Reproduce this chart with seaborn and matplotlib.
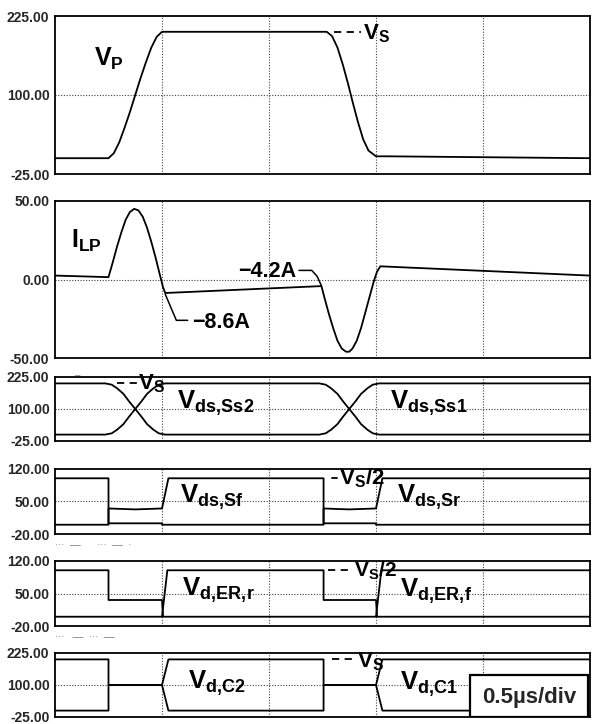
import matplotlib
matplotlib.use("Agg")
import matplotlib.pyplot as plt
import seaborn as sns
from matplotlib.patches import Rectangle

# ---------------- data (time in microseconds) ----------------
t_vp = [0.0, 0.25, 0.275, 0.30, 0.325, 0.35, 0.375, 0.40, 0.425, 0.45, 0.475, 0.50,
        1.27, 1.295, 1.32, 1.345, 1.37, 1.39, 1.415, 1.44, 1.465, 1.50, 1.55, 2.50]
v_p = [0, 0, 8, 25, 48, 73, 100, 127, 152, 175, 192, 200,
       200, 193, 175, 148, 117, 90, 58, 30, 12, 3, 3, 0]

t_ilp = [0, 0.25, 0.27, 0.29, 0.31, 0.33, 0.35, 0.37, 0.39, 0.41, 0.43, 0.45, 0.47, 0.49,
         0.505, 0.515, 1.245, 1.26, 1.28, 1.30, 1.32, 1.34, 1.36, 1.375, 1.39, 1.41,
         1.43, 1.45, 1.47, 1.49, 1.505, 1.52, 2.5]
i_lp = [2.5, 1.5, 11, 21, 30, 38, 43, 45, 44, 40, 33, 24, 14, 3,
        -5, -8.6, -4.2, -12, -22, -31, -39, -44, -46, -46, -44, -39,
        -31, -21, -11, -1, 5, 8.4, 2.5]

t_ss = [0, 0.235, 0.265, 0.29, 0.32, 0.345, 0.375, 0.405, 0.43, 0.46, 0.485, 0.515,
        1.235, 1.265, 1.29, 1.32, 1.345, 1.375, 1.405, 1.43, 1.46, 1.485, 1.515, 2.5]
v_ss2 = [200, 200, 195, 181, 159, 131, 100, 69, 41, 19, 5, 0,
         0, 5, 19, 41, 69, 100, 131, 159, 181, 195, 200, 200]
v_ss1 = [0, 0, 5, 19, 41, 69, 100, 131, 159, 181, 195, 200,
         200, 195, 181, 159, 131, 100, 69, 41, 19, 5, 0, 0]

t_sf = [0, 0.25, 0.25, 0.31, 0.375, 0.44, 0.50, 0.53, 1.255, 1.255, 1.50, 1.50, 2.5]
v_sf = [0, 0, 35, 34, 33, 34, 35, 100, 100, 3, 3, 0, 0]
t_sr = [0, 0.25, 0.25, 0.50, 0.50, 1.255, 1.255, 1.31, 1.375, 1.44, 1.50, 1.53, 2.5]
v_sr = [100, 100, 3, 3, 0, 0, 35, 34, 33, 34, 35, 100, 100]

t_err = [0, 0.25, 0.25, 0.50, 0.505, 1.50, 1.525, 2.5]
v_err = [100, 100, 36, 36, 0, 0, 100, 100]
t_erf = [0, 0.50, 0.525, 1.255, 1.255, 1.50, 1.505, 2.5]
v_erf = [0, 0, 100, 100, 36, 36, 0, 0]

t_c = [0, 0.25, 0.25, 0.50, 0.53, 1.255, 1.255, 1.50, 1.53, 2.5]
v_c2 = [200, 200, 100, 100, 200, 200, 100, 100, 200, 200]
v_c1 = [0, 0, 100, 100, 0, 0, 100, 100, 0, 0]

y_limits = [(-25, 225), (-50, 50), (-25, 225), (-20, 120), (-20, 120), (-25, 225)]
y_mid = [100, 0, 100, 50, 50, 100]
x_grid = [0.5, 1.0, 1.5, 2.0]

# ---------------- style ----------------
sns.set_theme(style="white")
plt.rcParams["font.family"] = ["Liberation Sans", "DejaVu Sans"]
plt.rcParams["mathtext.fontset"] = "custom"
plt.rcParams["mathtext.bf"] = "Liberation Sans:bold"
plt.rcParams["mathtext.rm"] = "Liberation Sans"
plt.rcParams["mathtext.it"] = "Liberation Sans:italic"
plt.rcParams["mathtext.sf"] = "Liberation Sans"

fig = plt.figure(figsize=(5.92, 7.24), dpi=100)
H = 724.0
panels_px = [(16, 174), (201, 358), (377, 441), (469, 534), (561, 626), (653, 717)]
left, width = 55 / 592, 535 / 592
axes = []
for (top, bot) in panels_px:
    ax = fig.add_axes([left, 1 - bot / H, width, (bot - top) / H])
    axes.append(ax)

series = [
    [(t_vp, v_p)],
    [(t_ilp, i_lp)],
    [(t_ss, v_ss2), (t_ss, v_ss1)],
    [(t_sf, v_sf), (t_sr, v_sr)],
    [(t_err, v_err), (t_erf, v_erf)],
    [(t_c, v_c2), (t_c, v_c1)],
]

for ax, ser, lim, mid in zip(axes, series, y_limits, y_mid):
    for tx, vy in ser:
        sns.lineplot(x=tx, y=vy, ax=ax, color="black", lw=1.3,
                     estimator=None, sort=False, legend=False, zorder=3)
    ax.set_xlim(0, 2.5)
    ax.set_ylim(*lim)
    ax.set_yticks([lim[0], mid, lim[1]])
    ax.set_yticklabels([f"{lim[0]:.2f}", f"{mid:.2f}", f"{lim[1]:.2f}"],
                       fontsize=10, fontweight="bold")
    ax.set_xticks([])
    ax.tick_params(axis="y", length=0, pad=4)
    ax.axhline(mid, color="#444444", lw=0.8, ls=(0, (1, 1.5)), zorder=1)
    for xg in x_grid:
        ax.axvline(xg, color="#444444", lw=0.8, ls=(0, (1, 1.5)), zorder=1)
    for sp in ax.spines.values():
        sp.set_color("black")
        sp.set_linewidth(1.3)
    ax.set_xlabel("")
    ax.set_ylabel("")

dash = dict(color="black", lw=1.3, ls=(0, (4, 3)))
lab = dict(color="black", ha="left", va="baseline", zorder=5)

# panel 1
a = axes[0]
a.text(0.18, 146, r"$\mathbf{V_{P}}$", fontsize=18, **lab)
a.plot([1.305, 1.43], [200, 200], **dash)
a.text(1.44, 188, r"$\mathbf{V_{S}}$", fontsize=16, **lab)

# panel 2
a = axes[1]
a.text(0.075, 20, r"$\mathbf{I_{LP}}$", fontsize=18, **lab)
a.plot([0.515, 0.567, 0.62], [-9.3, -26, -26], color="black", lw=1.1)
a.text(0.64, -31, "\u22128.6A", fontsize=15.5, fontweight="bold", **lab)
a.plot([1.14, 1.20, 1.225, 1.245], [5.8, 5.8, 2, -4], color="black", lw=1.1)
a.text(0.855, 1.5, "\u22124.2A", fontsize=15.5, fontweight="bold", **lab)

# panel 3
a = axes[2]
a.text(0.095, 232, "\u2012", fontsize=7, color="#888888", ha="left", va="center")
a.plot([0.29, 0.385], [200, 200], **dash)
a.text(0.39, 175, r"$\mathbf{V_{S}}$", fontsize=16, **lab)
a.text(0.57, 100, r"$\mathbf{V_{ds,\!Ss2}}$", fontsize=18.5, **lab)
a.text(1.565, 100, r"$\mathbf{V_{ds,\!Ss1}}$", fontsize=18.5, **lab)

# panel 4
a = axes[3]
a.plot([1.295, 1.32], [100, 100], color="black", lw=1.3)
a.text(1.325, 86, r"$\mathbf{V_{S}/2}$", fontsize=16, **lab)
a.text(0.585, 47, r"$\mathbf{V_{ds,\!Sf}}$", fontsize=18.5, **lab)
a.text(1.60, 47, r"$\mathbf{V_{ds,\!Sr}}$", fontsize=18.5, **lab)
a.text(0.0, -0.17, "\u00b7\u00b7\u00b7  \u2012\u2012      \u00b7\u00b7\u00b7  \u2012\u2012  \u00b7",
       transform=a.transAxes, fontsize=7, color="#777777", ha="left", va="center")

# panel 5
a = axes[4]
a.plot([1.275, 1.39], [100, 100], **dash)
a.text(1.395, 86, r"$\mathbf{V_{S}/2}$", fontsize=15, **lab)
a.text(0.595, 45, r"$\mathbf{V_{d,\!ER,\!r}}$", fontsize=18.5, **lab)
a.text(1.61, 43, r"$\mathbf{V_{d,\!ER,\!f}}$", fontsize=18.5, **lab)
a.text(0.0, -0.17, "\u00b7\u00b7\u00b7   \u2012\u2012  \u00b7\u00b7\u00b7  \u2012\u2012",
       transform=a.transAxes, fontsize=7, color="#777777", ha="left", va="center")

# panel 6
a = axes[5]
a.plot([1.295, 1.395], [200, 200], **dash)
a.text(1.41, 170, r"$\mathbf{V_{S}}$", fontsize=16, **lab)
a.text(0.62, 86, r"$\mathbf{V_{d,\!C2}}$", fontsize=18.5, **lab)
a.text(1.61, 82, r"$\mathbf{V_{d,\!C1}}$", fontsize=18.5, **lab)
a.add_patch(Rectangle((0.776, 0.0), 0.22, 0.656, transform=a.transAxes,
                      facecolor="white", edgecolor="black", lw=1.6, zorder=6))
a.text(0.886, 0.30, "0.5\u00b5s/div", transform=a.transAxes, fontsize=16,
       fontweight="bold", ha="center", va="center", zorder=7)

fig.savefig("out.png", dpi=100)
